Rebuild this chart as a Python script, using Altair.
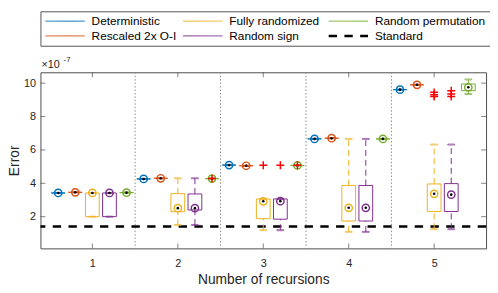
import altair as alt
import pandas as pd

# ---------------- data (values x 1e-7) ----------------
groups = [1, 2, 3, 4, 5]
series = ["Deterministic", "Rescaled 2x O-I", "Fully randomized", "Random sign", "Random permutation"]
colors = ["#0072BD", "#D95319", "#EDB120", "#7E2F8E", "#77AC30"]
offsets = [-0.4, -0.2, 0.0, 0.2, 0.4]

det_med = [3.42, 4.26, 5.09, 6.66, 9.61]
res_med = [3.46, 4.30, 5.05, 6.70, 9.90]

fr_lo = [2.00, 1.50, 1.19, 1.09, 1.25]
fr_q1 = [2.00, 2.30, 1.88, 1.74, 2.31]
fr_med = [3.42, 2.51, 2.92, 2.53, 3.37]
fr_q3 = [3.42, 3.38, 3.06, 3.87, 3.96]
fr_hi = [3.42, 4.30, 3.06, 6.66, 6.32]

rs_lo = [2.00, 1.50, 1.19, 1.09, 1.25]
rs_q1 = [2.00, 2.40, 1.85, 1.74, 2.31]
rs_med = [3.42, 2.51, 2.93, 2.53, 3.32]
rs_q3 = [3.42, 3.36, 3.06, 3.87, 3.98]
rs_hi = [3.42, 4.30, 3.06, 6.66, 6.32]

rp_lo = [3.44, 4.28, 5.07, 6.66, 9.35]
rp_q1 = [3.44, 4.28, 5.07, 6.66, 9.55]
rp_med = [3.44, 4.28, 5.07, 6.66, 9.75]
rp_q3 = [3.44, 4.28, 5.07, 6.66, 9.95]
rp_hi = [3.44, 4.28, 5.07, 6.66, 10.22]

out_series = ["Fully randomized", "Fully randomized", "Fully randomized", "Fully randomized",
              "Random sign", "Random sign", "Random sign", "Random sign",
              "Random permutation", "Random permutation"]
out_group = [3, 5, 5, 5, 3, 5, 5, 5, 2, 3]
out_value = [5.08, 9.20, 9.30, 9.45, 5.08, 9.20, 9.35, 9.55, 4.28, 5.08]

standard_value = [1.41]
separators = [1.5, 2.5, 3.5, 4.5]
y_ticks = [2, 4, 6, 8, 10]
x_ticks = [1, 2, 3, 4, 5]

# legend is laid out column by column
legend_order = ["Deterministic", "Rescaled 2x O-I", "Fully randomized",
                "Random sign", "Random permutation", "Standard"]
legend_colors = ["#0072BD", "#D95319", "#EDB120", "#7E2F8E", "#77AC30", "#000000"]
legend_dash = [[1, 0], [1, 0], [1, 0], [1, 0], [1, 0], [8.5, 7.5]]
legend_width = [1, 1, 1, 1, 1, 2.5]

# ---------------- tables ----------------
stats = {
    "Deterministic": (det_med, det_med, det_med, det_med, det_med),
    "Rescaled 2x O-I": (res_med, res_med, res_med, res_med, res_med),
    "Fully randomized": (fr_lo, fr_q1, fr_med, fr_q3, fr_hi),
    "Random sign": (rs_lo, rs_q1, rs_med, rs_q3, rs_hi),
    "Random permutation": (rp_lo, rp_q1, rp_med, rp_q3, rp_hi),
}
rows = []
for s, off in zip(series, offsets):
    lo, q1, md, q3, hi = stats[s]
    for i, g in enumerate(groups):
        rows.append(dict(series=s, pos=g + off, lo=lo[i], q1=q1[i], med=md[i], q3=q3[i], hi=hi[i]))
box = pd.DataFrame(rows)

off_map = dict(zip(series, offsets))
outl = pd.DataFrame({"series": out_series,
                     "pos": [g + off_map[s] for s, g in zip(out_series, out_group)],
                     "value": out_value})

W, H = 453, 179
FONT = "Liberation Sans"
AX = "#4d4d4d"

xsc = alt.Scale(domain=[0.45, 5.55], nice=False, zero=False)
ysc = alt.Scale(domain=[0.1, 10.65], nice=False, zero=False)
X_AXIS = alt.Axis(values=x_ticks, title="Number of recursions", labelPadding=9,
                  titlePadding=5, format="d")
Y_AXIS = alt.Axis(values=y_ticks, title="Error", labelPadding=5, titleX=-19, format="d")


def X(f):
    return alt.X(f, scale=xsc, axis=X_AXIS)


def Y(f):
    return alt.Y(f, scale=ysc, axis=Y_AXIS)


stroke_enc = alt.Stroke("series:N", scale=alt.Scale(domain=series, range=colors), legend=None)

# separators
sep_df = pd.DataFrame({"pos": separators})
sep_layer = alt.Chart(sep_df).mark_rule(color="#8a8a8a", strokeDash=[1.5, 2], strokeWidth=1).encode(
    x=X("pos:Q"))

# standard line (carries the legend)
leg = alt.Legend(orient="none", legendX=0, legendY=-62, columns=3, title=None,
                 symbolType="M-1.25,0L8.75,0", symbolSize=64, labelFontSize=12, labelFont=FONT,
                 labelColor="#000", columnPadding=4, rowPadding=3, padding=4,
                 strokeColor="#555", fillColor="white", labelOffset=36)
std_df = pd.DataFrame({"series": ["Standard"], "y": standard_value})
std_layer = alt.Chart(std_df).mark_rule().encode(
    y=Y("y:Q"),
    color=alt.Color("series:N", scale=alt.Scale(domain=legend_order, range=legend_colors), legend=leg),
    strokeDash=alt.StrokeDash("series:N", scale=alt.Scale(type="ordinal", domain=legend_order,
                                                          range=legend_dash), legend=leg),
    strokeWidth=alt.StrokeWidth("series:N", scale=alt.Scale(type="ordinal", domain=legend_order,
                                                            range=legend_width), legend=leg),
)

base = alt.Chart(box)
wh_up = base.mark_rule(strokeDash=[6, 4], strokeWidth=1).encode(
    x=X("pos:Q"), y=Y("q3:Q"), y2="hi:Q", stroke=stroke_enc)
wh_lo = base.mark_rule(strokeDash=[6, 4], strokeWidth=1).encode(
    x=X("pos:Q"), y=Y("lo:Q"), y2="q1:Q", stroke=stroke_enc)
cap_hi = base.mark_tick(orient="horizontal", size=7, thickness=1).encode(
    x=X("pos:Q"), y=Y("hi:Q"), stroke=stroke_enc, color=alt.value(None))
cap_lo = base.mark_tick(orient="horizontal", size=7, thickness=1).encode(
    x=X("pos:Q"), y=Y("lo:Q"), stroke=stroke_enc, color=alt.value(None))
boxes = base.mark_bar(size=14, filled=False, strokeWidth=1).encode(
    x=X("pos:Q"), y=Y("q1:Q"), y2="q3:Q", stroke=stroke_enc)
med_c = base.mark_point(shape="circle", size=55, filled=False, strokeWidth=1.5, opacity=1).encode(
    x=X("pos:Q"), y=Y("med:Q"), stroke=stroke_enc)
med_d = base.mark_point(shape="circle", size=7, filled=True, color="black", opacity=1).encode(
    x=X("pos:Q"), y=Y("med:Q"))

outs = alt.Chart(outl).mark_point(shape="M-1,0L1,0M0,-1L0,1", size=64, filled=False,
                                  color="red", strokeWidth=1.5, opacity=1).encode(
    x=X("pos:Q"), y=Y("value:Q"))

# inward ticks
yt = pd.DataFrame({"y": y_ticks})
xt = pd.DataFrame({"pos": x_ticks})
tl = alt.Chart(yt).mark_tick(orient="horizontal", size=5, thickness=1, color=AX).encode(
    y=Y("y:Q"), x=alt.value(2.5))
tr = alt.Chart(yt).mark_tick(orient="horizontal", size=5, thickness=1, color=AX).encode(
    y=Y("y:Q"), x=alt.value(W - 2.5))
tt = alt.Chart(xt).mark_tick(orient="vertical", size=5, thickness=1, color=AX).encode(
    x=X("pos:Q"), y=alt.value(2.5))
tb = alt.Chart(xt).mark_tick(orient="vertical", size=5, thickness=1, color=AX).encode(
    x=X("pos:Q"), y=alt.value(H - 2.5))

# exponent label
exp_df = pd.DataFrame({"base": ["\u00d710"], "exp": ["-7"]})
exp_base = alt.Chart(exp_df).mark_text(align="left", baseline="alphabetic", fontSize=11,
                                        font=FONT, color="#262626").encode(
    x=alt.value(1), y=alt.value(-4), text="base:N")
exp_sup = alt.Chart(exp_df).mark_text(align="left", baseline="alphabetic", fontSize=8,
                                       font=FONT, color="#262626").encode(
    x=alt.value(23.5), y=alt.value(-10.5), text="exp:N")

chart = alt.layer(
    sep_layer, std_layer, wh_up, wh_lo, cap_hi, cap_lo, boxes, med_c, med_d, outs,
    tl, tr, tt, tb, exp_base, exp_sup
).properties(
    width=W, height=H,
    autosize=alt.AutoSizeParams(type="none"),
    padding={"left": 33, "top": 63, "right": 4, "bottom": 43},
).configure_view(stroke=AX, strokeWidth=1).configure_axis(
    grid=False, domain=False, ticks=False, labelFont=FONT, titleFont=FONT,
    labelFontSize=11, titleFontSize=14, labelColor="#262626", titleColor="#262626",
    titleFontWeight="normal"
)

chart.save("out.html", embed_options={"renderer": "svg", "actions": False})
